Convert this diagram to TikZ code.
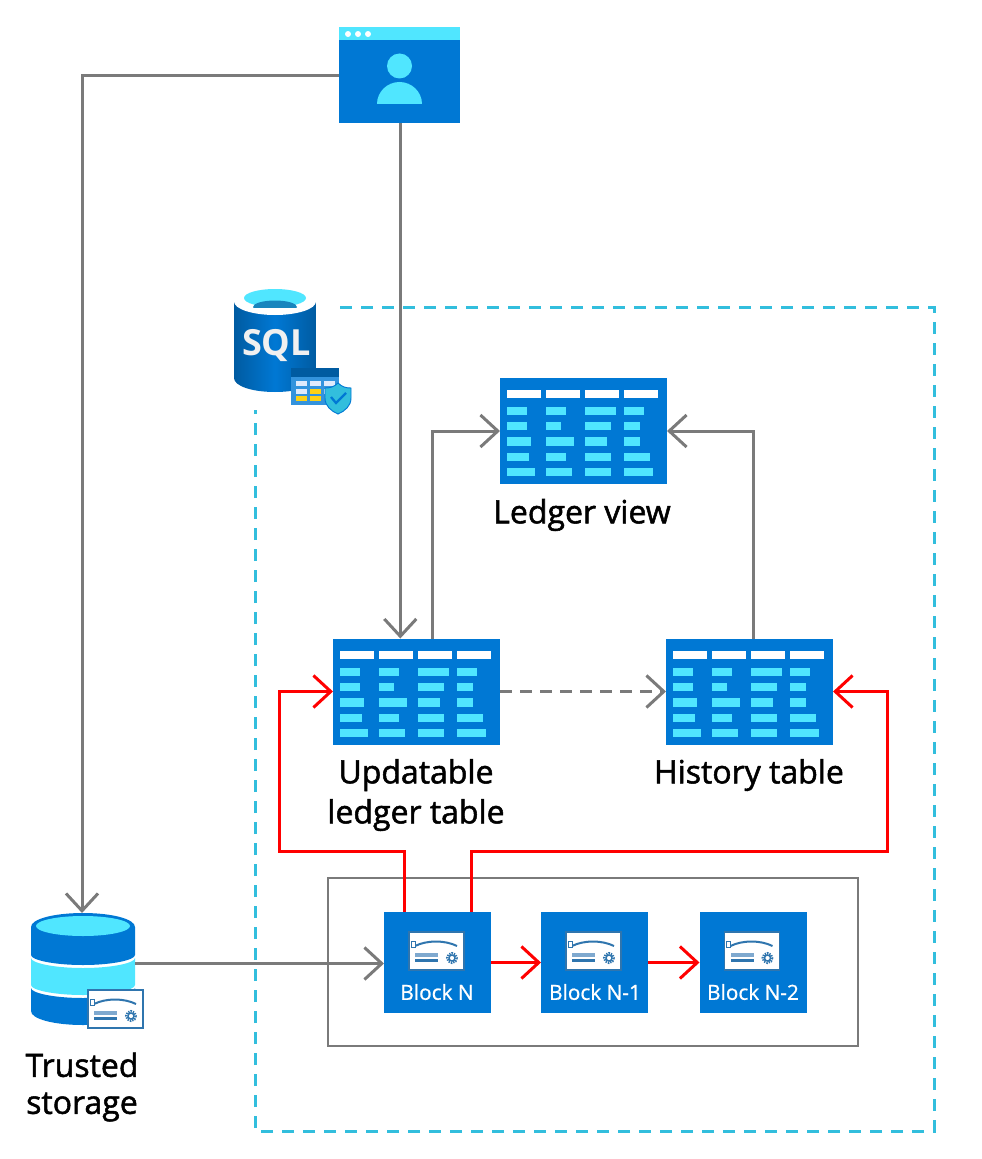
\documentclass[tikz,border=0pt]{standalone}
\usepackage{fontspec}
\setmainfont{Open Sans}
\newfontfamily\capfont{Open Sans}[RawFeature={embolden=1.6}]
\newfontfamily\blockfont{Open Sans}[RawFeature={embolden=0.8}]
\newfontfamily\sqlfont{Open Sans}
\usetikzlibrary{arrows.meta,calc}
\definecolor{azblue}{HTML}{0078D4}
\definecolor{azcyan}{HTML}{50E6FF}
\definecolor{azdark}{HTML}{005BA1}
\definecolor{dashcyan}{HTML}{32BEDD}
\definecolor{linegrey}{HTML}{7A7A7A}
\definecolor{certline}{HTML}{2F75AE}
\definecolor{certbar}{HTML}{7FA9CF}
\definecolor{azyellow}{HTML}{FCD116}
\definecolor{azpale}{HTML}{DFEAFC}
\tikzset{
  x=0.75pt,y=-0.75pt,
  barb/.style={-{Straight Barb[length=13pt,width=24pt,line width=2.25pt]}},
  greyline/.style={draw=linegrey,line width=2.25pt},
  redline/.style={draw=red,line width=2.25pt},
  tablebox/.style={fill=azblue,minimum width=125.25pt,minimum height=79.5pt,inner sep=0,outer sep=0},
  blockbox/.style={fill=azblue,minimum width=80.25pt,minimum height=75.75pt,inner sep=0,outer sep=0},
  ghost/.style={minimum width=78pt,minimum height=84pt,inner sep=0,outer sep=0},
  caption/.style={font=\capfont\fontsize{24}{30}\selectfont,align=center,inner sep=0},
  blocktext/.style={font=\blockfont\fontsize{15.6}{18}\selectfont,text=white,inner sep=0},
  tablebars/.pic={
    \foreach \xx in {7,46,85,124} \fill[white] (\xx,12) rectangle ++(34,8);
    \foreach \yy/\hh/\a/\b/\c/\d in {29/8/20/20/31/20,44/8/20/15/26/16,59/9/24/28/22/16,75/8/22/20/26/26,90/8/28/26/26/29}{
      \fill[azcyan] (7,\yy) rectangle ++(\a,\hh);
      \fill[azcyan] (46,\yy) rectangle ++(\b,\hh);
      \fill[azcyan] (85,\yy) rectangle ++(\c,\hh);
      \fill[azcyan] (124,\yy) rectangle ++(\d,\hh);
    }
  },
  certificate/.pic={
    \fill[white,draw=certline,line width=1.1pt] (0,0) rectangle (55,38);
    \draw[certline,line width=1.5pt] (6,14) .. controls (18,8) and (36,8) .. (48,14);
    \draw[certline,line width=.7pt,fill=white] (2,9) rectangle (6,15);
    \fill[certbar] (6,21) rectangle (29,25);
    \fill[certline] (6,27) rectangle (29,30);
    \draw[certline,line width=1.8pt,dash pattern=on 1pt off .8pt] (43,26) circle[radius=4.8];
    \draw[certline,line width=1.1pt] (43,26) circle[radius=3];
  },
}
\begin{document}
\begin{tikzpicture}
\useasboundingbox (0,0) rectangle (981,1159);
% dashed boundary and inner frame
\draw[dashcyan,line width=2.25pt,dash pattern=on 9pt off 6.75pt] (340,307) -- (934,307) -- (934,1131) -- (255,1131) -- (255,410);
\draw[linegrey,line width=1pt] (328,878) rectangle (858,1046);

% application
\node[fill=azblue,minimum width=90.75pt,minimum height=72pt,inner sep=0,outer sep=0] (app) at (399.5,75) {};
\fill[azcyan] (339,27) rectangle (460,40);
\foreach \xx in {348,358,368} \fill[white] (\xx,34) circle[radius=3];
\fill[azcyan] (399.5,66) circle[radius=12.5];
\fill[azcyan] (377,104) .. controls (377,92) and (387,82) .. (399.5,82) .. controls (412,82) and (422,92) .. (422,104) -- cycle;

% tables
\node[tablebox] (ledger) at (583.5,431) {};
\pic at (ledger.north west) {tablebars};
\node[tablebox] (upd) at (416.5,691.5) {};
\pic at (upd.north west) {tablebars};
\node[tablebox] (hist) at (749.5,691.5) {};
\pic at (hist.north west) {tablebars};
\node[caption] (ledgerlabel) at (582,515) {Ledger view};
\node[caption] (updlabel) at (416,795) {Updatable\\ledger table};
\node[caption] (histlabel) at (749,775) {History table};

% blocks
\node[blockbox] (blockN) at (437.5,962.5) {};
\node[blockbox] (blockNa) at (594.5,962.5) {};
\node[blockbox] (blockNb) at (753,962.5) {};
\foreach \n in {blockN,blockNa,blockNb}
  \pic at ($(\n.north west)+(25,20)$) {certificate};
\node[blocktext] (tN) at (437,992) {Block N};
\node[blocktext] (tNa) at (595,992) {Block N-1};
\node[blocktext] (tNb) at (753,992) {Block N-2};

% trusted storage
\node[ghost] (trust) at (82,969) {};
\fill[azblue] (31,1000) -- (31,1011) .. controls (31,1019) and (54,1025) .. (83,1025) .. controls (112,1025) and (135,1019) .. (135,1011) -- (135,988) .. controls (135,993) and (112,998) .. (83,998) .. controls (54,998) and (31,993) .. (31,988) -- cycle;
\fill[azcyan] (31,958) .. controls (31,963) and (54,968) .. (83,968) .. controls (112,968) and (135,963) .. (135,958) -- (135,985) .. controls (135,990) and (112,995) .. (83,995) .. controls (54,995) and (31,990) .. (31,985) -- cycle;
\fill[azblue] (31,927) -- (31,955) .. controls (31,960) and (54,965) .. (83,965) .. controls (112,965) and (135,960) .. (135,955) -- (135,927) .. controls (135,919) and (112,913) .. (83,913) .. controls (54,913) and (31,919) .. (31,927) -- cycle;
\fill[azcyan] (83,926) ellipse[x radius=47,y radius=10];
\pic at (88,990) {certificate};
\node[caption,font=\capfont\fontsize{24}{27.75}\selectfont] (trustlabel) at (82,1087) {Trusted\\storage};

% SQL icon
\shade[left color=azdark,right color=azdark,middle color=azblue] (234,301) -- (234,378) .. controls (234,386) and (252,392) .. (275,392) .. controls (298,392) and (316,386) .. (316,378) -- (316,301) -- cycle;
\fill[white] (275,301.5) ellipse[x radius=41,y radius=13.5];
\fill[azcyan] (275,298) ellipse[x radius=31,y radius=9];
\begin{scope}
\clip (244,288) rectangle (306,307);
\fill[azdark!70!azcyan] (275,307) ellipse[x radius=22,y radius=6.5];
\end{scope}
\node[inner sep=0,text=white!94!black,font=\sqlfont\bfseries\fontsize{27}{32}\selectfont] (sql) at (276.5,346) {SQL};
\fill[azdark] (291,368) rectangle (339,378);
\fill[azblue!80!white] (291,377) rectangle (339,405);
\foreach \cx/\cy/\col in {296/381/azpale,310/381/azpale,324/381/azpale,296/388.5/azpale,310/388.5/azyellow,324/388.5/azpale,296/396/azyellow,310/396/azyellow}
  \fill[\col] (\cx,\cy) rectangle ++(11,5);
\fill[dashcyan,draw=azblue,line width=.7pt] (338,383) .. controls (342,387) and (346,388) .. (351,388) -- (351,398) .. controls (351,406) and (345,411) .. (338,414) .. controls (331,411) and (325,406) .. (325,398) -- (325,388) .. controls (330,388) and (334,387) .. (338,383) -- cycle;
\draw[azblue,line width=1.7pt] (331,397) -- (336,403) -- (346,393);

% connectors
\coordinate (appleft) at (339,76);
\coordinate (appdown) at (400.3,123);
\coordinate (updout) at (432,639);
\coordinate (histout) at (753,639);
\coordinate (redA) at (404,912);
\coordinate (redB) at (471,912);
\coordinate (redAturn) at (279,851);
\coordinate (redBturn) at (887,851);
\coordinate (trustout) at (135,963.5);
\draw[greyline,barb] (appleft) -| (trust.north);
\draw[greyline,barb] (appdown) -- (appdown |- upd.north);
\draw[greyline,barb] (updout) |- (ledger.west);
\draw[greyline,barb] (histout) |- (ledger.east);
\draw[greyline,barb,dash pattern=on 9pt off 6pt] (upd.east) -- (hist.west);
\draw[greyline,barb] (trustout) -- (blockN.west |- trustout);
\draw[redline,barb] (redA) |- (redAturn) |- (upd.west);
\draw[redline,barb] (redB) |- (redBturn) |- (hist.east);
\draw[redline,barb] (blockN.east) -- (blockNa.west);
\draw[redline,barb] (blockNa.east) -- (blockNb.west);
\end{tikzpicture}
\end{document}
